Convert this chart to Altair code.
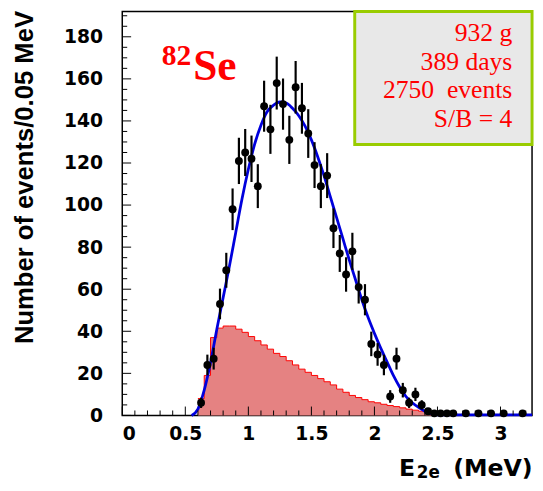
import altair as alt
import pandas as pd

# ---------------- data ----------------
# measured spectrum (bin centres, MeV) and counts per 0.05 MeV
pt_x = [0.625, 0.675, 0.725, 0.775, 0.825, 0.875, 0.925, 0.975, 1.025, 1.075,
        1.125, 1.175, 1.225, 1.275, 1.325, 1.375, 1.425, 1.475, 1.525, 1.575,
        1.625, 1.675, 1.725, 1.775, 1.825, 1.875, 1.925, 1.975, 2.025, 2.075,
        2.125, 2.175, 2.225, 2.275, 2.325, 2.375, 2.425, 2.475, 2.525, 2.575,
        2.625, 2.725, 2.825, 2.925, 3.025, 3.175]
pt_n = [6, 24, 27, 53, 69, 98, 121, 125, 122, 109,
        147, 136, 158, 148, 131, 156, 146, 134, 119, 109,
        114, 89, 77, 67, 78, 61, 55, 34, 29, 24,
        9, 27, 12, 6, 10, 5, 2, 1, 1, 1,
        1, 1, 1, 1, 1, 1]

# fitted total spectrum (blue curve)
fit_x = [0.55, 0.60, 0.65, 0.70, 0.75, 0.80, 0.85, 0.90, 0.95, 1.00,
         1.05, 1.10, 1.15, 1.20, 1.25, 1.30, 1.35, 1.40, 1.45, 1.50,
         1.55, 1.60, 1.65, 1.70, 1.75, 1.80, 1.85, 1.90, 1.95, 2.00,
         2.05, 2.10, 2.15, 2.20, 2.25, 2.30, 2.35, 2.40, 2.45, 2.50,
         2.60, 3.25]
fit_y = [0, 3, 12, 25, 41, 56, 71, 87, 103, 117,
         129, 138, 144.5, 147.5, 149, 148.5, 146, 142.5, 137.5, 131,
         123, 114, 104, 94, 84, 74, 64.5, 55, 46.5, 39,
         32, 25.5, 19, 13.5, 9, 6, 3.8, 2, 0.8, 0.3,
         0.3, 0.3]

# background histogram (bin lower edges, MeV)
bkg_lo = [0.60, 0.65, 0.70, 0.75, 0.80, 0.85, 0.90, 0.95, 1.00, 1.05,
          1.10, 1.15, 1.20, 1.25, 1.30, 1.35, 1.40, 1.45, 1.50, 1.55,
          1.60, 1.65, 1.70, 1.75, 1.80, 1.85, 1.90, 1.95, 2.00, 2.05,
          2.10, 2.15, 2.20, 2.25, 2.30, 2.35, 2.40, 2.45]
bkg_n = [8, 19, 37, 41.5, 42.5, 42.5, 41, 39.5, 37.5, 35.5,
         33.5, 31.5, 29.5, 28, 26, 24, 22, 20.5, 19, 17.5,
         16, 14.5, 12.5, 11, 9.5, 8.5, 7.5, 6.5, 6, 5.3,
         4.7, 4.2, 3.6, 3, 2.5, 2, 1.6, 0]

# axis labels and tick marks
x_label_vals = [0, 0.5, 1, 1.5, 2, 2.5, 3]
y_label_vals = [0, 20, 40, 60, 80, 100, 120, 140, 160, 180]
x_major_ticks = [0, 0.5, 1, 1.5, 2, 2.5, 3]
x_minor_ticks = [0.1, 0.2, 0.3, 0.4, 0.6, 0.7, 0.8, 0.9, 1.1, 1.2, 1.3, 1.4,
                 1.6, 1.7, 1.8, 1.9, 2.1, 2.2, 2.3, 2.4, 2.6, 2.7, 2.8, 2.9,
                 3.1, 3.2]
y_major_ticks = [0, 20, 40, 60, 80, 100, 120, 140, 160, 180]
y_minor_ticks = [5, 10, 15, 25, 30, 35, 45, 50, 55, 65, 70, 75, 85, 90, 95,
                 105, 110, 115, 125, 130, 135, 145, 150, 155, 165, 170, 175,
                 185, 190]

info_lines = ["932 g", "389 days", "2750\u00a0 events", "S/B = 4"]
y_title = "Number of events/0.05 MeV"

# ---------------- chart ----------------
W, H = 416, 410
xs = alt.Scale(domain=[0, 3.25], nice=False, zero=False)
ys = alt.Scale(domain=[0, 192], nice=False, zero=False)

xaxis = alt.Axis(values=x_label_vals, format="~g", ticks=False, domain=False,
                 grid=False, labelFont="DejaVu Sans", labelFontWeight="bold",
                 labelFontSize=19, labelPadding=9, labelColor="black",
                 title=None)
yaxis = alt.Axis(values=y_label_vals, ticks=False, domain=False, grid=False,
                 labelFont="DejaVu Sans", labelFontWeight="bold",
                 labelFontSize=19, labelPadding=20, labelColor="black",
                 title=y_title, titleFont="Liberation Sans",
                 titleFontWeight="bold", titleFontSize=26, titleColor="black",
                 titleAngle=270, titleX=-99, titleY=168,
                 titleAlign="center", titleBaseline="middle")

X = alt.X("x:Q", scale=xs, axis=xaxis)
Y = alt.Y("y:Q", scale=ys, axis=yaxis)

pts_df = pd.DataFrame({"x": pt_x, "y": pt_n})
fit_df = pd.DataFrame({"x": fit_x, "y": fit_y})
bkg_df = pd.DataFrame({"x": bkg_lo, "y": bkg_n})
one = pd.DataFrame({"k": [0]})

bkg_area = alt.Chart(bkg_df).mark_area(
    interpolate="step-after", color="#e58282").encode(x=X, y=Y)
bkg_line = alt.Chart(bkg_df).mark_line(
    interpolate="step-after", color="#ff0000", strokeWidth=1).encode(x=X, y=Y)

fit_line = alt.Chart(fit_df).mark_line(
    interpolate="monotone", color="#0000dd", strokeWidth=2.8).encode(x=X, y=Y)

errs = alt.Chart(pts_df).transform_calculate(
    lo="datum.y - sqrt(datum.y)", hi="datum.y + sqrt(datum.y)"
).mark_rule(color="black", strokeWidth=2.2).encode(
    x=X, y=alt.Y("lo:Q", scale=ys, axis=yaxis), y2="hi:Q")
pts = alt.Chart(pts_df).mark_circle(size=64, color="black", opacity=1).encode(x=X, y=Y)


def xticks(vals, length):
    return alt.Chart(pd.DataFrame({"x": vals})).mark_rule(
        color="black", strokeWidth=1).encode(
        x=X, y=alt.value(H), y2=alt.value(H - length))


def yticks(vals, length):
    return alt.Chart(pd.DataFrame({"y": vals})).mark_rule(
        color="black", strokeWidth=1).encode(
        y=Y, x=alt.value(0), x2=alt.value(length))


box = alt.Chart(one).mark_rect(
    fill="#e8e8e8", stroke="#99cc00", strokeWidth=3).encode(
    x=alt.value(236), x2=alt.value(416), y=alt.value(0), y2=alt.value(135))

info = alt.Chart(one).mark_text(
    align="right", baseline="alphabetic", font="Liberation Serif",
    fontSize=26, color="#ff0000", lineHeight=29).encode(
    x=alt.value(396), y=alt.value(30), text=alt.value(info_lines))

iso_a = alt.Chart(one).mark_text(
    align="left", baseline="alphabetic", font="Liberation Serif",
    fontWeight="bold", fontSize=30, color="#ff0000").encode(
    x=alt.value(40), y=alt.value(54), text=alt.value("82"))
iso_b = alt.Chart(one).mark_text(
    align="left", baseline="alphabetic", font="Liberation Serif",
    fontWeight="bold", fontSize=44, color="#ff0000").encode(
    x=alt.value(72), y=alt.value(69), text=alt.value("Se"))

xt_a = alt.Chart(one).mark_text(
    align="left", baseline="alphabetic", font="DejaVu Sans",
    fontWeight="bold", fontSize=24, color="black").encode(
    x=alt.value(281), y=alt.value(471), text=alt.value("E"))
xt_b = alt.Chart(one).mark_text(
    align="left", baseline="alphabetic", font="DejaVu Sans",
    fontWeight="bold", fontSize=17, color="black").encode(
    x=alt.value(299), y=alt.value(474), text=alt.value("2e"))
xt_c = alt.Chart(one).mark_text(
    align="left", baseline="alphabetic", font="DejaVu Sans",
    fontWeight="bold", fontSize=24, color="black").encode(
    x=alt.value(336), y=alt.value(471), text=alt.value("(MeV)"))

chart = alt.layer(
    bkg_area, bkg_line, fit_line, errs, pts,
    xticks(x_major_ticks, 9), xticks(x_minor_ticks, 5),
    yticks(y_major_ticks, 9), yticks(y_minor_ticks, 5),
    box, info, iso_a, iso_b, xt_a, xt_b, xt_c,
).properties(
    width=W, height=H,
    autosize=alt.AutoSizeParams(type="none"),
    padding={"left": 116, "top": 0, "right": 3, "bottom": 65},
    background="white",
).configure_view(stroke="black", strokeWidth=1.5)

chart.save("out.html", embed_options={"renderer": "svg", "actions": False})
